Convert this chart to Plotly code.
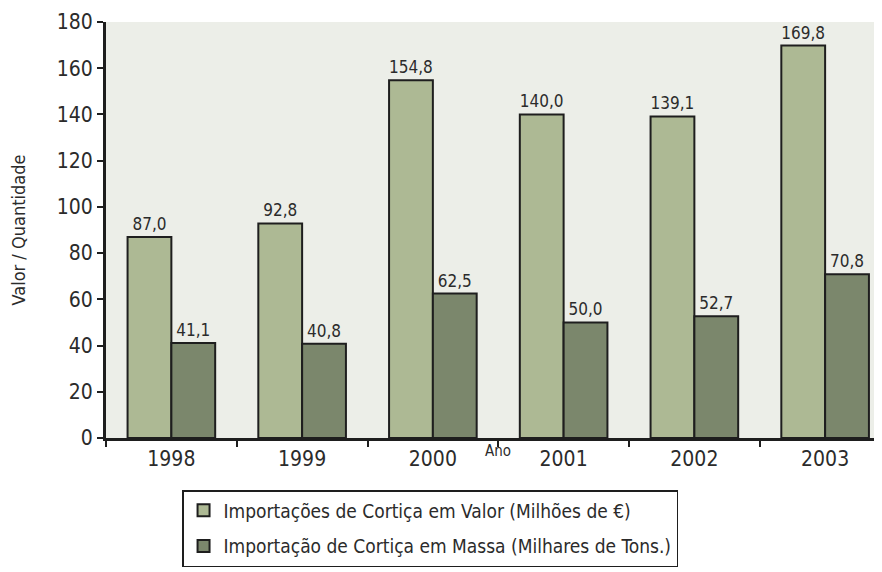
import plotly.graph_objects as go

anos = ["1998", "1999", "2000", "2001", "2002", "2003"]
valor = [87.0, 92.8, 154.8, 140.0, 139.1, 169.8]
massa = [41.1, 40.8, 62.5, 50.0, 52.7, 70.8]

nome_valor = "Importações de Cortiça em Valor (Milhões de €)"
nome_massa = "Importação de Cortiça em Massa (Milhares de Tons.)"

fonte = "Liberation Sans Narrow, Arial Narrow, DejaVu Sans Condensed, sans-serif"
cor_texto = "#2b2b2b"

fig = go.Figure()
fig.add_trace(go.Bar(x=anos, y=valor, name=nome_valor, legendgroup="v",
                     marker=dict(color="#adb994", line=dict(color="#1e1e1e", width=2)),
                     texttemplate="%{y:.1f}", textposition="outside", cliponaxis=False,
                     textfont=dict(size=21, color=cor_texto)))
fig.add_trace(go.Bar(x=anos, y=massa, name=nome_massa, legendgroup="m",
                     marker=dict(color="#7b876c", line=dict(color="#1e1e1e", width=2)),
                     texttemplate="%{y:.1f}", textposition="outside", cliponaxis=False,
                     textfont=dict(size=21, color=cor_texto)))

fig.add_annotation(x=2.5, y=-0.005, xref="x", yref="paper", text="Ano", showarrow=False,
                   yanchor="top", font=dict(size=15, color=cor_texto))

# a pagina tem margem de 8px no body, por isso o grafico fica 8px mais pequeno
fig.update_layout(
    width=874, height=564,
    margin=dict(l=98, r=0, t=14, b=134, autoexpand=False),
    paper_bgcolor="white", plot_bgcolor="#eceee8",
    separators=",.",
    barmode="group", bargap=0.33, bargroupgap=0,
    font=dict(family=fonte, size=21, color=cor_texto),
    uniformtext=dict(mode="show", minsize=10),
    legend=dict(x=0.098, y=-0.125, xanchor="left", yanchor="top",
                bgcolor="white", bordercolor="#1e1e1e", borderwidth=1.5,
                font=dict(size=19), entrywidth=473, tracegroupgap=8),
)
fig.update_xaxes(range=[-0.5, 5.435], showline=True, linewidth=3, linecolor="#1e1e1e",
                 ticks="outside", tickson="boundaries", ticklen=6, tickwidth=2,
                 tickcolor="#1e1e1e", showgrid=False, tickfont=dict(size=21),
                 automargin=False)
fig.update_yaxes(range=[0, 180], dtick=20, showline=True, linewidth=3, linecolor="#1e1e1e",
                 ticks="outside", ticklen=6, tickwidth=2, tickcolor="#1e1e1e",
                 showgrid=False, zeroline=False, tickfont=dict(size=21), automargin=False,
                 title=dict(text="Valor / Quantidade", font=dict(size=18), standoff=36))

fig.write_html("out.html")
